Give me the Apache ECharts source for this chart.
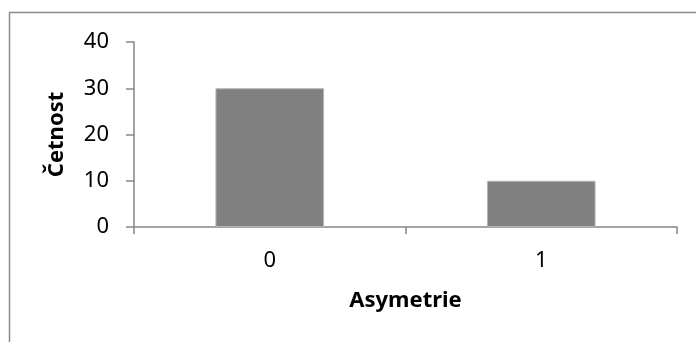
<!DOCTYPE html>
<html>
<head>
<meta charset="utf-8">
<script src="https://cdn.jsdelivr.net/npm/echarts@6/dist/echarts.min.js"></script>
<style>
  html, body { margin: 0; padding: 0; background: #fff; }
  #chart { width: 696px; height: 342px; }
</style>
</head>
<body>
<div id="chart"></div>
<script>
// Frequency of asymmetry classes
const categories = ['0', '1'];
const counts = [30, 10];
const yTicks = { min: 0, max: 40, interval: 10 };

const axisGray = '#868686';
const font = '"Noto Sans", "Open Sans", sans-serif';

const chart = echarts.init(document.getElementById('chart'), null, { renderer: 'canvas' });
chart.setOption({
  animation: false,
  backgroundColor: '#ffffff',
  grid: { left: 134, right: 19, top: 42, bottom: 115 },
  graphic: [{
    type: 'rect',
    shape: { x: 9.5, y: 12.5, width: 1200, height: 1200 },
    style: { fill: 'none', stroke: '#8c8c8c', lineWidth: 1.5 },
    silent: true
  }],
  xAxis: {
    type: 'category',
    data: categories,
    name: 'Asymetrie',
    nameLocation: 'middle',
    nameGap: 63,
    nameTextStyle: { fontFamily: font, fontWeight: 'bold', fontSize: 22, color: '#000' },
    axisLine: { lineStyle: { color: axisGray, width: 1.5 } },
    axisTick: { show: true, length: 7, lineStyle: { color: axisGray, width: 1.5 } },
    axisLabel: { margin: 23, fontFamily: font, fontSize: 22, color: '#000' }
  },
  yAxis: {
    type: 'value',
    min: yTicks.min,
    max: yTicks.max,
    interval: yTicks.interval,
    name: 'Četnost',
    nameLocation: 'middle',
    nameGap: 66,
    nameTextStyle: { fontFamily: font, fontWeight: 'bold', fontSize: 22, color: '#000' },
    axisLine: { show: true, lineStyle: { color: axisGray, width: 1.5 } },
    axisTick: { show: true, length: 8, lineStyle: { color: axisGray, width: 1.5 } },
    axisLabel: { margin: 25, fontFamily: font, fontSize: 22, color: '#000' },
    splitLine: { show: false }
  },
  series: [{
    type: 'bar',
    data: counts,
    barWidth: '40%',
    itemStyle: { color: '#808080', borderColor: '#b4b4b4', borderWidth: 1 }
  }]
});
</script>
</body>
</html>
